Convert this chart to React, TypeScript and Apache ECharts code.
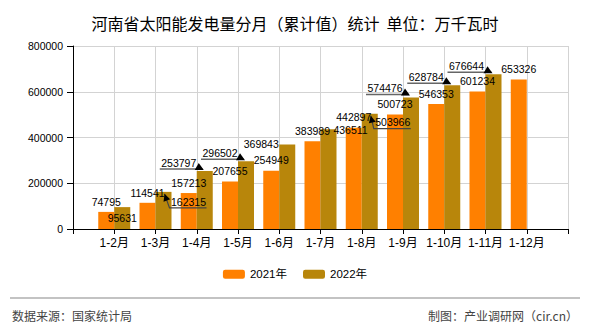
import React, { useEffect, useRef } from "react";
import * as echarts from "echarts";

const categories = ["1-2月", "1-3月", "1-4月", "1-5月", "1-6月", "1-7月", "1-8月", "1-9月", "1-10月", "1-11月", "1-12月"];
const values2021 = [74795, 114541, 157213, 207655, 254949, 383989, 442897, 500723, 546353, 601234, 653326];
const values2022 = [95631, 162315, 253797, 296502, 369843, 436511, 503966, 574476, 628784, 676644, null];
const yTicks = [0, 200000, 400000, 600000, 800000];

// label layout for the 2022 series (shift from the default "top" spot, and pointer kind)
const labelShift2022: [number, number][] = [
  [0, 21], [25, 20], [-26, 2], [-26, 2], [-26, 10], [22, 11], [23, 19], [-26, 1], [-26, 2], [-27, 2], [0, 0],
];
const pointer2022 = ["none", "right", "left", "left", "none", "none", "right", "left", "left", "left", "none"];

const pad = (arr: any[]) => [null, ...arr, null];

export default function App() {
  const ref = useRef<HTMLDivElement>(null);
  useEffect(() => {
    if (!ref.current) return;
    const chart = echarts.init(ref.current, null, { renderer: "svg" });
    const cjk = "'Noto Sans CJK SC', sans-serif";
    const num = "'Liberation Sans', 'Noto Sans CJK SC', sans-serif";
    const data2022 = values2022.map((v, i) =>
      v == null ? null : { value: v, label: { offset: labelShift2022[i] } }
    );
    chart.setOption({
      animation: false,
      textStyle: { fontFamily: num },
      title: {
        text: "河南省太阳能发电量分月（累计值）统计  单位：万千瓦时",
        left: "center",
        top: 10,
        textStyle: { fontSize: 16, fontWeight: "normal", color: "#000", fontFamily: cjk },
      },
      legend: {
        bottom: 45,
        left: "center",
        itemWidth: 22,
        itemHeight: 9,
        itemGap: 16,
        textStyle: { fontSize: 11.5, color: "#000", fontFamily: num },
        data: ["2021年", "2022年"],
      },
      grid: { left: 73, right: 22, top: 46, bottom: 101 },
      xAxis: {
        type: "category",
        boundaryGap: false,
        data: ["", ...categories, ""],
        axisLine: { lineStyle: { color: "#000" } },
        axisTick: { show: true, lineStyle: { color: "#000" }, length: 5 },
        axisLabel: { color: "#000", fontSize: 12, margin: 8, interval: 0, fontFamily: num },
        splitLine: { show: true, lineStyle: { color: "#d3d3d3" } },
      },
      yAxis: {
        type: "value",
        min: yTicks[0],
        max: yTicks[yTicks.length - 1],
        interval: yTicks[1] - yTicks[0],
        axisLine: { show: true, lineStyle: { color: "#000" } },
        axisTick: { show: true, lineStyle: { color: "#000" }, length: 6 },
        axisLabel: { color: "#000", fontSize: 10.5, margin: 10, fontFamily: num, formatter: (v: number) => String(v) },
        splitLine: { show: true, lineStyle: { color: "#d3d3d3" } },
      },
      series: [
        {
          name: "2021年",
          type: "bar",
          data: pad(values2021),
          barWidth: 16,
          barGap: "0%",
          itemStyle: { color: "#ff8000" },
          label: { show: true, position: "top", distance: 5, color: "#000", fontSize: 10.5, fontFamily: num },
        },
        {
          name: "2022年",
          type: "bar",
          data: pad(data2022),
          barWidth: 16,
          itemStyle: { color: "#b8860b" },
          label: { show: true, position: "top", distance: 5, color: "#000", fontSize: 10.5, fontFamily: num },
        },
      ],
    });

    // pointer lines for moved labels, positioned through the chart's own scales
    const graphics: any[] = [
      { type: "line", shape: { x1: 10, y1: 298, x2: 580, y2: 298 }, style: { stroke: "#888", lineWidth: 1.2 } },
      { type: "text", x: 12, y: 315, style: { text: "数据来源：国家统计局", fontSize: 12, fill: "#444", fontFamily: cjk, verticalAlign: "middle" } },
      { type: "text", x: 578, y: 315, style: { text: "制图：产业调研网（cir.cn）", fontSize: 12, fill: "#444", fontFamily: cjk, align: "right", verticalAlign: "middle" } },
    ];
    const arrow = (from: number[], tip: number[]) => {
      const dx = tip[0] - from[0];
      const dy = tip[1] - from[1];
      const len = Math.hypot(dx, dy) || 1;
      const ux = dx / len, uy = dy / len;
      const L = 7, W = 3.5;
      const bx = tip[0] - ux * L, by = tip[1] - uy * L;
      return {
        type: "polygon",
        shape: { points: [tip, [bx - uy * W, by + ux * W], [bx + uy * W, by - ux * W]] },
        style: { fill: "#000" },
        z: 100,
      };
    };
    values2022.forEach((v, i) => {
      if (v == null || pointer2022[i] === "none") return;
      const p = chart.convertToPixel({ xAxisIndex: 0, yAxisIndex: 0 }, [i + 1, v]) as number[];
      const bx = p[0] + 8;
      const top = p[1];
      const [sx, sy] = labelShift2022[i];
      const cx = bx + sx;
      const cy = top - 11 + sy;
      if (pointer2022[i] === "left") {
        const uy = cy + 7;
        const tx = bx - 2;
        graphics.push({ type: "polyline", shape: { points: [[cx - 19, uy], [tx, uy]] }, style: { stroke: "#666", lineWidth: 1.5, fill: "none" }, z: 100 });
        graphics.push({
          type: "polygon",
          shape: { points: [[tx - 8, uy + 1], [tx + 1, uy + 1], [tx - 4, uy - 6]] },
          style: { fill: "#000" },
          z: 100,
        });
      } else {
        const uy = cy + 7;
        const tip = [bx + 1, top + 2];
        const pts = [[cx + 18, uy], [cx - 19, uy], tip];
        graphics.push({ type: "polyline", shape: { points: pts }, style: { stroke: "#444", lineWidth: 1.2, fill: "none" }, z: 100 });
        graphics.push(arrow([cx - 19, uy], tip));
      }
    });
    chart.setOption({ graphic: graphics });
    return () => chart.dispose();
  }, []);
  return <div ref={ref} style={{ width: 590, height: 330, margin: -8 }} />;
}
